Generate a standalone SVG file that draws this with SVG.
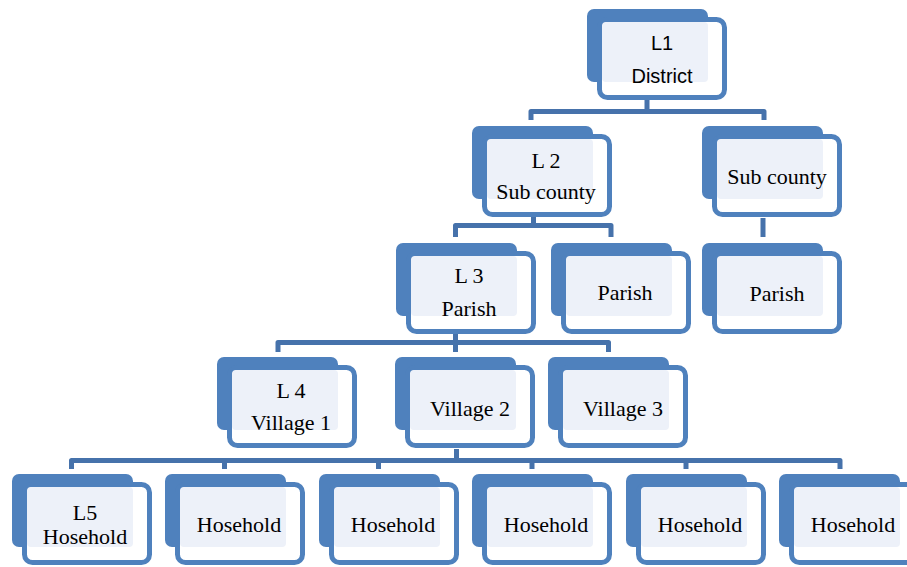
<svg xmlns="http://www.w3.org/2000/svg" xmlns:xlink="http://www.w3.org/1999/xlink" width="907" height="567" viewBox="0 0 907 567">
<style>
.t{font-family:'Liberation Serif','DejaVu Serif','Times New Roman',serif;font-size:22px;fill:#000;text-anchor:middle}
.s{font-family:'Liberation Sans','DejaVu Sans',Arial,sans-serif;font-size:20px;fill:#000;text-anchor:middle}
.c{fill:none;stroke:#4672AB;stroke-width:5;stroke-linejoin:round}
</style>
<defs>
<g id="box">
<rect x="0" y="0" width="121" height="73" rx="7" fill="#4F81BD"/>
<rect x="12.5" y="10.5" width="125" height="78" rx="8" fill="#FFFFFF" stroke="#4F81BD" stroke-width="5"/>
<rect x="15" y="13" width="106" height="60" rx="4" fill="#EDF1F9"/>
</g>
</defs>
<g id="connectors">
<path class="c" d="M531,120 V111.5 H764 V120 M647,100 V111.5"/>
<path class="c" d="M455.5,237 V225.5 H611 V237 M533.5,217 V225.5"/>
<path class="c" d="M763,218 V237"/>
<path class="c" d="M278,352 V342.5 H608.5 V352 M455.5,333 V352"/>
<path class="c" d="M71.5,469 V460.5 H840 V469 M224.5,460.5 V469 M378.5,460.5 V469 M532,460.5 V469 M686,460.5 V469 M456.5,449 V460.5"/>
</g>
<g id="n1" transform="translate(587,9)"><use xlink:href="#box"/><text class="s" x="75" y="41">L1</text><text class="s" x="75" y="74">District</text></g>
<g id="n2" transform="translate(472,126)"><use xlink:href="#box"/><text class="t" font-family="Liberation Serif, serif" x="74" y="42">L 2</text><text class="t" font-family="Liberation Serif, serif" x="74" y="73">Sub county</text></g>
<g id="n3" transform="translate(702,126)"><use xlink:href="#box"/><text class="t" font-family="Liberation Serif, serif" x="75" y="57.5">Sub county</text></g>
<g id="n4" transform="translate(396,243)"><use xlink:href="#box"/><text class="t" font-family="Liberation Serif, serif" x="73" y="40">L 3</text><text class="t" font-family="Liberation Serif, serif" x="73" y="73">Parish</text></g>
<g id="n5" transform="translate(551,243)"><use xlink:href="#box"/><text class="t" font-family="Liberation Serif, serif" x="74" y="57">Parish</text></g>
<g id="n6" transform="translate(702,243)"><use xlink:href="#box"/><text class="t" font-family="Liberation Serif, serif" x="75" y="58">Parish</text></g>
<g id="n7" transform="translate(217,357)"><use xlink:href="#box"/><text class="t" font-family="Liberation Serif, serif" x="74" y="41">L 4</text><text class="t" font-family="Liberation Serif, serif" x="74" y="73">Village 1</text></g>
<g id="n8" transform="translate(395,357)"><use xlink:href="#box"/><text class="t" font-family="Liberation Serif, serif" x="75" y="59">Village 2</text></g>
<g id="n9" transform="translate(548,357)"><use xlink:href="#box"/><text class="t" font-family="Liberation Serif, serif" x="75" y="59">Village 3</text></g>
<g id="n10" transform="translate(12,474)"><use xlink:href="#box"/><text class="t" font-family="Liberation Serif, serif" x="73" y="46">L5</text><text class="t" font-family="Liberation Serif, serif" x="73" y="70">Hosehold</text></g>
<g id="n11" transform="translate(165,474)"><use xlink:href="#box"/><text class="t" font-family="Liberation Serif, serif" x="74" y="58">Hosehold</text></g>
<g id="n12" transform="translate(319,474)"><use xlink:href="#box"/><text class="t" font-family="Liberation Serif, serif" x="74" y="58">Hosehold</text></g>
<g id="n13" transform="translate(472,474)"><use xlink:href="#box"/><text class="t" font-family="Liberation Serif, serif" x="74" y="58">Hosehold</text></g>
<g id="n14" transform="translate(626,474)"><use xlink:href="#box"/><text class="t" font-family="Liberation Serif, serif" x="74" y="58">Hosehold</text></g>
<g id="n15" transform="translate(779,474)"><use xlink:href="#box"/><text class="t" font-family="Liberation Serif, serif" x="74" y="58">Hosehold</text></g>
</svg>
